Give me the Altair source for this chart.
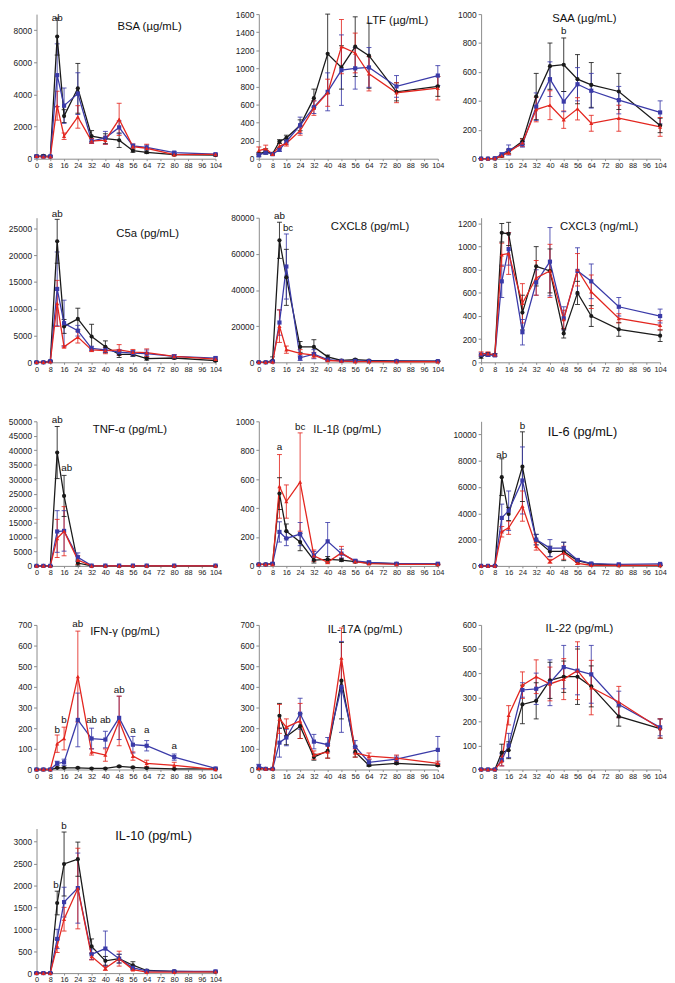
import altair as alt
import pandas as pd

T = [0, 4, 8, 12, 16, 24, 32, 40, 48, 56, 64, 80, 104]
X_TICKS = list(range(0, 105, 8))
SERIES = ["k", "b", "r"]
COLORS = ["#1a1a1a", "#3a3aa8", "#e3261f"]
SHAPES = ["circle", "square", "triangle-up"]

# ---- BSA (µg/mL)
bsa_k = [150, 180, 130, 7600, 2650, 4380, 1400, 1250, 1150, 500, 400, 250, 220]
bsa_k_e = [60, 60, 50, 1150, 400, 1550, 350, 300, 450, 100, 80, 60, 50]
bsa_b = [150, 130, 150, 5200, 3300, 4050, 1100, 1300, 1950, 800, 700, 380, 280]
bsa_b_e = [60, 50, 50, 1950, 1100, 1300, 150, 400, 400, 120, 150, 60, 50]
bsa_r = [150, 120, 120, 3300, 1400, 2600, 1100, 1150, 2450, 750, 650, 250, 270]
bsa_r_e = [60, 50, 50, 900, 200, 700, 150, 250, 1000, 150, 250, 60, 50]
bsa_ann = [(12, 8750, "ab")]

# ---- LTF (µg/mL)
ltf_k = [50, 80, 55, 190, 230, 370, 670, 1160, 1010, 1240, 1140, 740, 800]
ltf_k_e = [20, 30, 15, 20, 30, 60, 100, 440, 240, 330, 360, 100, 110]
ltf_b = [40, 70, 50, 100, 190, 370, 570, 740, 980, 1000, 1010, 800, 920]
ltf_b_e = [20, 20, 10, 20, 30, 90, 70, 210, 390, 230, 220, 120, 110]
ltf_r = [90, 110, 50, 140, 170, 310, 560, 730, 1240, 1170, 940, 730, 780]
ltf_r_e = [40, 40, 10, 30, 30, 50, 80, 150, 300, 220, 190, 110, 130]
ltf_ann = []

# ---- SAA (µg/mL)
saa_k = [0, 0, 2, 20, 50, 120, 430, 640, 650, 550, 510, 465, 230]
saa_k_e = [2, 2, 2, 8, 15, 20, 160, 160, 185, 170, 155, 125, 50]
saa_b = [0, 0, 3, 30, 60, 100, 360, 550, 395, 515, 470, 405, 320]
saa_b_e = [2, 2, 2, 10, 35, 20, 95, 120, 70, 115, 120, 95, 80]
saa_r = [0, 0, 2, 20, 45, 110, 340, 370, 270, 345, 245, 280, 220]
saa_r_e = [2, 2, 2, 8, 15, 25, 85, 100, 60, 77, 55, 90, 65]
saa_ann = [(48, 880, "b")]

# ---- C5a (pg/mL)
c5a_k = [0, 0, 200, 22600, 6700, 8100, 4800, 2900, 1500, 1500, 700, 800, 300]
c5a_k_e = [50, 50, 150, 4100, 1300, 2000, 2300, 1100, 600, 400, 300, 200, 150]
c5a_b = [0, 0, 200, 13700, 7300, 5900, 2600, 2300, 1900, 1700, 1600, 1100, 800]
c5a_b_e = [50, 50, 150, 6900, 4300, 1000, 400, 500, 500, 500, 700, 300, 200]
c5a_r = [0, 0, 100, 11000, 2900, 4700, 2300, 2200, 2300, 1900, 1800, 1100, 600]
c5a_r_e = [50, 50, 100, 4300, 200, 1100, 300, 600, 1000, 500, 700, 300, 200]
c5a_ann = [(12, 27600, "ab")]

# ---- CXCL8 (pg/mL)
cxcl8_k = [0, 0, 1000, 67500, 47000, 8500, 8500, 3000, 1000, 1500, 1000, 800, 700]
cxcl8_k_e = [100, 100, 2000, 10000, 15500, 3000, 4000, 1000, 400, 500, 300, 200, 200]
cxcl8_b = [0, 0, 500, 22000, 53000, 2500, 4500, 1500, 800, 800, 700, 700, 600]
cxcl8_b_e = [100, 100, 500, 7000, 18000, 1500, 2500, 500, 300, 300, 200, 200, 200]
cxcl8_r = [0, 0, 200, 20000, 7000, 5000, 4000, 1000, 700, 400, 400, 300, 300]
cxcl8_r_e = [100, 100, 200, 9000, 2000, 2000, 1500, 400, 300, 200, 200, 100, 100]
cxcl8_ann = [(12, 81000, "ab"), (17, 74500, "bc")]

# ---- CXCL3 (ng/mL)
cxcl3_k = [50, 70, 65, 1120, 1110, 430, 830, 790, 250, 600, 400, 285, 230]
cxcl3_k_e = [15, 15, 10, 80, 100, 150, 170, 190, 40, 100, 90, 60, 50]
cxcl3_b = [65, 65, 60, 700, 980, 260, 690, 870, 380, 790, 700, 480, 400]
cxcl3_b_e = [15, 15, 10, 140, 140, 110, 110, 295, 100, 200, 150, 80, 60]
cxcl3_r = [75, 75, 65, 930, 940, 510, 730, 790, 370, 800, 610, 380, 320]
cxcl3_r_e = [15, 15, 10, 100, 180, 170, 150, 230, 80, 140, 145, 40, 40]
cxcl3_ann = []

# ---- TNF-α (pg/mL)
tnf_k = [0, 0, 0, 39200, 24200, 1000, 0, 0, 0, 0, 0, 0, 0]
tnf_k_e = [100, 100, 100, 9000, 7100, 1000, 100, 100, 100, 100, 100, 100, 100]
tnf_b = [0, 0, 0, 11900, 12100, 3000, 100, 100, 100, 100, 100, 100, 100]
tnf_b_e = [100, 100, 100, 7200, 7000, 1500, 100, 100, 100, 100, 100, 100, 100]
tnf_r = [0, 0, 0, 9500, 12000, 2000, 0, 0, 0, 0, 0, 0, 0]
tnf_r_e = [100, 100, 100, 6600, 8500, 1500, 100, 100, 100, 100, 100, 100, 100]
tnf_ann = [(12, 50300, "ab"), (17.5, 33900, "ab")]

# ---- IL-1β (pg/mL)
il1b_k = [10, 10, 15, 500, 240, 165, 40, 45, 40, 30, 20, 15, 10]
il1b_k_e = [3, 3, 5, 110, 50, 60, 20, 20, 10, 8, 5, 5, 3]
il1b_b = [10, 10, 15, 235, 190, 220, 70, 170, 85, 35, 25, 15, 15]
il1b_b_e = [3, 3, 5, 70, 50, 80, 30, 130, 30, 10, 8, 5, 5]
il1b_r = [10, 10, 10, 550, 445, 580, 70, 25, 90, 30, 15, 10, 10]
il1b_r_e = [3, 3, 3, 220, 115, 340, 40, 10, 45, 10, 5, 3, 3]
il1b_ann = [(12, 820, "a"), (24, 957, "bc")]

# ---- IL-6 (pg/mL)
il6_k = [0, 0, 0, 6750, 3950, 7550, 2000, 1100, 1100, 400, 150, 50, 30]
il6_k_e = [30, 30, 30, 1400, 500, 2650, 400, 400, 700, 100, 50, 30, 20]
il6_b = [0, 0, 0, 3650, 4200, 6500, 2000, 1350, 1350, 450, 180, 120, 150]
il6_b_e = [30, 30, 30, 1050, 1500, 2550, 400, 650, 450, 100, 50, 30, 40]
il6_r = [0, 0, 0, 2600, 2900, 4550, 1500, 350, 1000, 200, 50, 30, 40]
il6_r_e = [30, 30, 30, 400, 500, 1150, 300, 150, 500, 80, 30, 20, 20]
il6_ann = [(12, 8460, "ab"), (24, 10620, "b")]

# ---- IFN-γ (pg/mL)
ifng_k = [0, 0, 0, 8, 8, 8, 5, 5, 15, 10, 7, 3, 3]
ifng_k_e = [1, 1, 1, 3, 3, 3, 2, 2, 4, 3, 2, 1, 1]
ifng_b = [0, 0, 0, 30, 35, 240, 150, 145, 250, 120, 115, 60, 5]
ifng_b_e = [1, 1, 1, 10, 15, 130, 50, 40, 105, 40, 25, 15, 3]
ifng_r = [0, 0, 0, 125, 150, 450, 85, 70, 235, 65, 30, 20, 0]
ifng_r_e = [1, 1, 1, 42, 55, 220, 15, 30, 120, 20, 15, 15, 2]
ifng_ann = [(12, 192, "b"), (16, 240, "b"), (24, 705, "ab"), (32, 240, "ab"),
            (40, 240, "ab"), (48, 385, "ab"), (56, 192, "a"), (64, 192, "a"),
            (80, 113, "a")]

# ---- IL-17A (pg/mL)
il17_k = [5, 3, 3, 260, 160, 210, 60, 90, 430, 85, 20, 30, 20]
il17_k_e = [5, 2, 2, 60, 40, 60, 15, 35, 185, 25, 5, 5, 5]
il17_b = [15, 3, 3, 130, 155, 270, 135, 120, 400, 110, 35, 50, 95]
il17_b_e = [10, 2, 2, 70, 40, 75, 35, 35, 220, 30, 15, 15, 65]
il17_r = [5, 3, 3, 245, 205, 235, 70, 85, 540, 80, 65, 55, 30]
il17_r_e = [5, 2, 2, 70, 40, 85, 20, 30, 145, 20, 15, 15, 10]
il17_ann = []

# ---- IL-22 (pg/mL)
il22_k = [0, 0, 0, 70, 80, 270, 285, 370, 385, 385, 345, 220, 170]
il22_k_e = [2, 2, 2, 35, 35, 80, 75, 75, 65, 115, 85, 40, 40]
il22_b = [0, 0, 0, 40, 100, 330, 335, 360, 425, 410, 395, 270, 175]
il22_b_e = [2, 2, 2, 25, 50, 30, 65, 95, 90, 100, 120, 55, 35]
il22_r = [0, 0, 0, 35, 225, 350, 385, 355, 375, 410, 340, 280, 170]
il22_r_e = [2, 2, 2, 20, 40, 55, 70, 70, 85, 120, 113, 65, 40]
il22_ann = []

# ---- IL-10 (pg/mL)
il10_k = [0, 0, 0, 1600, 2490, 2600, 610, 280, 330, 180, 60, 40, 30]
il10_k_e = [10, 10, 10, 270, 730, 390, 170, 100, 100, 80, 20, 10, 10]
il10_b = [0, 0, 0, 780, 1620, 1940, 430, 560, 330, 120, 50, 40, 40]
il10_b_e = [10, 10, 10, 220, 340, 800, 120, 400, 100, 40, 20, 10, 10]
il10_r = [0, 0, 0, 620, 1230, 1930, 380, 110, 330, 80, 20, 20, 30]
il10_r_e = [10, 10, 10, 150, 270, 920, 80, 50, 170, 20, 10, 10, 10]
il10_ann = [(11.3, 2015, "b"), (16, 3350, "b")]

W = 182
H = 147
FONT = "Liberation Sans"


def panel(title, ymax, ystep, ylast, series, ann, tx, ty, tsize=11.5):
    rows = []
    for key, (m, e) in zip(SERIES, series):
        for t, v, err in zip(T, m, e):
            rows.append(dict(t=t, v=v, lo=max(0, v - err), hi=v + err, s=key))
    df = pd.DataFrame(rows)
    xs = alt.Scale(domain=[0, 104], nice=False, zero=False)
    xa = alt.Axis(values=X_TICKS, title=None, labelFontSize=7.5, tickSize=2,
                  labelPadding=1, grid=False, labelOverlap=False, labelFlush=False)
    ys = alt.Scale(domain=[0, ymax], nice=False, zero=True)
    ya = alt.Axis(values=list(range(0, ylast + 1, ystep)), title=None, format="d",
                  labelFontSize=8.5, tickSize=3, labelPadding=2, grid=False)
    col = alt.Color("s:N", scale=alt.Scale(domain=SERIES, range=COLORS), legend=None)
    shp = alt.Shape("s:N", scale=alt.Scale(domain=SERIES, range=SHAPES), legend=None)
    base = alt.Chart(df)
    X = alt.X("t:Q", scale=xs, axis=xa)
    rule = base.mark_rule(strokeWidth=1, opacity=0.85).encode(
        x=X, y=alt.Y("lo:Q", scale=ys, axis=ya), y2="hi:Q", color=col)
    cap_hi = base.mark_tick(orient="horizontal", size=5, thickness=1, opacity=0.85).encode(
        x=X, y=alt.Y("hi:Q", scale=ys, axis=ya), color=col)
    cap_lo = base.mark_tick(orient="horizontal", size=5, thickness=1, opacity=0.85).encode(
        x=X, y=alt.Y("lo:Q", scale=ys, axis=ya), color=col)
    line = base.mark_line(strokeWidth=1.3).encode(
        x=X, y=alt.Y("v:Q", scale=ys, axis=ya), color=col, order="t:Q")
    pts = base.mark_point(filled=True, size=18, opacity=1).encode(
        x=X, y=alt.Y("v:Q", scale=ys, axis=ya), color=col, shape=shp)
    layers = [rule, cap_hi, cap_lo, line, pts]
    if ann:
        adf = pd.DataFrame(ann, columns=["t", "v", "txt"])
        layers.append(alt.Chart(adf).mark_text(fontSize=10, font=FONT, color="#111",
                                               baseline="middle").encode(
            x=alt.X("t:Q", scale=xs, axis=xa), y=alt.Y("v:Q", scale=ys, axis=ya),
            text="txt:N"))
    tdf = pd.DataFrame({"label": [title]})
    layers.append(alt.Chart(tdf).mark_text(fontSize=tsize, font=FONT, color="#111",
                                           align="center", baseline="middle").encode(
        x=alt.value(tx), y=alt.value(ty), text="label:N"))
    return alt.layer(*layers).properties(width=W, height=H)


panels = [
    panel("BSA (µg/mL)", 9000, 2000, 8000,
          [(bsa_k, bsa_k_e), (bsa_b, bsa_b_e), (bsa_r, bsa_r_e)], bsa_ann, 115, 13),
    panel("LTF (µg/mL)", 1600, 200, 1600,
          [(ltf_k, ltf_k_e), (ltf_b, ltf_b_e), (ltf_r, ltf_r_e)], ltf_ann, 141, 7),
    panel("SAA  (µg/mL)", 1000, 200, 1000,
          [(saa_k, saa_k_e), (saa_b, saa_b_e), (saa_r, saa_r_e)], saa_ann, 105, 5),
    panel("C5a (pg/mL)", 27000, 5000, 25000,
          [(c5a_k, c5a_k_e), (c5a_b, c5a_b_e), (c5a_r, c5a_r_e)], c5a_ann, 113, 17),
    panel("CXCL8 (pg/mL)", 80000, 20000, 80000,
          [(cxcl8_k, cxcl8_k_e), (cxcl8_b, cxcl8_b_e), (cxcl8_r, cxcl8_r_e)],
          cxcl8_ann, 113, 9),
    panel("CXCL3 (ng/mL)", 1250, 200, 1200,
          [(cxcl3_k, cxcl3_k_e), (cxcl3_b, cxcl3_b_e), (cxcl3_r, cxcl3_r_e)],
          cxcl3_ann, 120, 9),
    panel("TNF-α (pg/mL)", 50000, 5000, 50000,
          [(tnf_k, tnf_k_e), (tnf_b, tnf_b_e), (tnf_r, tnf_r_e)], tnf_ann, 95, 9),
    panel("IL-1β (pg/mL)", 1000, 200, 1000,
          [(il1b_k, il1b_k_e), (il1b_b, il1b_b_e), (il1b_r, il1b_r_e)],
          il1b_ann, 90, 9),
    panel("IL-6 (pg/mL)", 11000, 2000, 10000,
          [(il6_k, il6_k_e), (il6_b, il6_b_e), (il6_r, il6_r_e)], il6_ann, 103, 11, 13),
    panel("IFN-γ (pg/mL)", 700, 100, 700,
          [(ifng_k, ifng_k_e), (ifng_b, ifng_b_e), (ifng_r, ifng_r_e)],
          ifng_ann, 90, 7),
    panel("IL-17A (pg/mL)", 700, 100, 700,
          [(il17_k, il17_k_e), (il17_b, il17_b_e), (il17_r, il17_r_e)],
          il17_ann, 108, 5),
    panel("IL-22 (pg/mL)", 600, 100, 600,
          [(il22_k, il22_k_e), (il22_b, il22_b_e), (il22_r, il22_r_e)],
          il22_ann, 100, 4),
    panel("IL-10 (pg/mL)", 3300, 500, 3000,
          [(il10_k, il10_k_e), (il10_b, il10_b_e), (il10_r, il10_r_e)],
          il10_ann, 119, 8, 13),
]

chart = alt.concat(
    *panels, columns=3, bounds="flush", spacing={"row": 60, "column": 44}
).properties(
    padding={"left": 0, "top": -6, "right": 0, "bottom": 0}
).configure_view(stroke=None).configure_axis(
    domainColor="#8a8a8a", tickColor="#8a8a8a", labelColor="#222222",
    labelFont=FONT, domainWidth=1
)

chart.save("out.html", embed_options={"renderer": "svg", "actions": False})
